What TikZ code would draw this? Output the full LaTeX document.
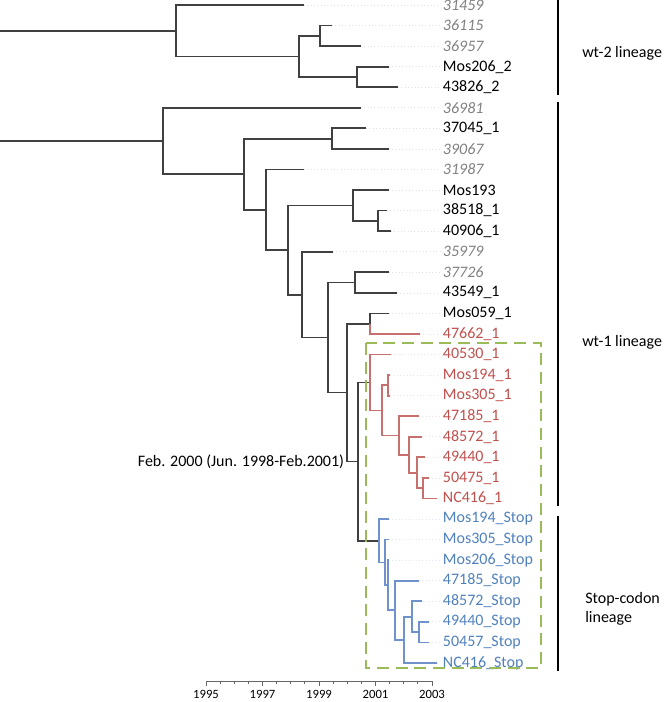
\documentclass[tikz,border=0pt]{standalone}
\usepackage{fontspec}
\setmainfont{Carlito}
\usetikzlibrary{positioning}
\definecolor{brblack}{RGB}{64,64,64}
\definecolor{brred}{RGB}{200,112,110}
\definecolor{brblue}{RGB}{112,146,204}
\definecolor{lbred}{RGB}{192,80,77}
\definecolor{lbblue}{RGB}{79,129,189}
\definecolor{lbgrey}{RGB}{128,128,128}
\definecolor{boxgreen}{RGB}{155,187,89}
\newcommand\lblsize{\fontsize{12}{14}\selectfont}
\tikzset{
  branch/.style={draw=brblack,line width=1.3pt},
  redbranch/.style={draw=brred,line width=1.3pt},
  bluebranch/.style={draw=brblue,line width=1.3pt},
  leaf/.style={anchor=west,inner sep=2pt,font=\lblsize},
  lab g/.style={leaf,text=lbgrey,font=\lblsize\itshape},
  lab k/.style={leaf,text=black},
  lab r/.style={leaf,text=lbred},
  lab b/.style={leaf,text=lbblue},
  lead g/.style={draw=black!12,dotted,line width=0.5pt},
  lead k/.style={lead g},
  lead r/.style={draw=brred!22,dotted,line width=0.5pt},
  lead b/.style={draw=brblue!22,dotted,line width=0.5pt},
  stopbox/.style={draw=boxgreen,line width=2.2pt,dash pattern=on 9pt off 5pt},
  bar/.style={draw=black,line width=1.1pt},
  axis/.style={draw=black!60,line width=0.7pt},
  yearlab/.style={font=\fontsize{9.5}{11}\selectfont,inner sep=0pt},
}
\begin{document}
\begin{tikzpicture}[x=0.75pt,y=-0.75pt]
  \useasboundingbox (0,0) rectangle (670,702);
  % leaves
  \foreach \i/\x/\s/\txt in {
      0/304/g/31459, 1/332/g/36115, 2/361/g/36957, 3/389/k/Mos206\_2, 4/398/k/43826\_2,
      5/361/g/36981, 6/366/k/37045\_1, 7/389/g/39067, 8/304/g/31987, 9/389/k/Mos193,
      10/387/k/38518\_1, 11/391/k/40906\_1, 12/333/g/35979, 13/389/g/37726, 14/397/k/43549\_1,
      15/389/k/Mos059\_1, 16/420/r/47662\_1, 17/391/r/40530\_1, 18/390/r/Mos194\_1,
      19/390/r/Mos305\_1, 20/419/r/47185\_1, 21/422/r/48572\_1, 22/425/r/49440\_1,
      23/429/r/50475\_1, 24/437/r/NC416\_1, 25/389/b/Mos194\_Stop, 26/389/b/Mos305\_Stop,
      27/389/b/Mos206\_Stop, 28/419/b/47185\_Stop, 29/422/b/48572\_Stop, 30/429/b/49440\_Stop,
      31/429/b/50457\_Stop, 32/437/b/NC416\_Stop}{
    \coordinate (l\i) at (\x,{5+20.56*\i});
    \node[lab \s] (t\i) at (440,{5+20.56*\i}) {\txt};
    \draw[lead \s] (l\i) -- (t\i.west);
  }
  % inner nodes, wt-2
  \coordinate (rootA) at (0,30.7);
  \coordinate (a4) at (176,30.7);
  \coordinate (a3) at (299,56.4);
  \coordinate (a1) at (320,35.84);
  \coordinate (a2) at (357,76.96);
  % inner nodes, wt-1
  \coordinate (rootB) at (0,141);
  \coordinate (n163) at (163,141);
  \coordinate (n244) at (244,174.2);
  \coordinate (b1) at (332,138.64);
  \coordinate (n266) at (266,209.77);
  \coordinate (n288) at (288,250.06);
  \coordinate (b3) at (353,205.46);
  \coordinate (b2) at (378,220.88);
  \coordinate (n302) at (302,294.66);
  \coordinate (n328) at (328,337.6);
  \coordinate (b4) at (355,282.56);
  \coordinate (n347) at (347,392.63);
  \coordinate (m) at (370,323.68);
  \coordinate (n358) at (358,461.58);
  \coordinate (split) at (347,461.58);
  \coordinate (r1) at (370,382.47);
  \coordinate (r2) at (382,410.42);
  \coordinate (r3) at (388,385.36);
  \coordinate (r4) at (399,435.48);
  \coordinate (r5) at (409,454.75);
  \coordinate (r6) at (417,472.74);
  \coordinate (r7) at (423,488.16);
  % inner nodes, stop codon
  \coordinate (s1) at (379,540.69);
  \coordinate (s2) at (385,562.37);
  \coordinate (s3) at (388,585.18);
  \coordinate (s4) at (395,610.24);
  \coordinate (s5) at (404,639.79);
  \coordinate (s6) at (412,616.66);
  \coordinate (s7) at (419,632.08);
  % branches
  \draw[branch] (rootA) -- (a4);
  \draw[branch] (a4) |- (l0); \draw[branch] (a4) |- (a3);
  \draw[branch] (a3) |- (a1); \draw[branch] (a3) |- (a2);
  \draw[branch] (a1) |- (l1); \draw[branch] (a1) |- (l2);
  \draw[branch] (a2) |- (l3); \draw[branch] (a2) |- (l4);
  \draw[branch] (rootB) -- (n163);
  \draw[branch] (n163) |- (l5); \draw[branch] (n163) |- (n244);
  \draw[branch] (n244) |- (b1); \draw[branch] (n244) |- (n266);
  \draw[branch] (b1) |- (l6); \draw[branch] (b1) |- (l7);
  \draw[branch] (n266) |- (l8); \draw[branch] (n266) |- (n288);
  \draw[branch] (n288) |- (b3); \draw[branch] (n288) |- (n302);
  \draw[branch] (b3) |- (l9); \draw[branch] (b3) |- (b2);
  \draw[branch] (b2) |- (l10); \draw[branch] (b2) |- (l11);
  \draw[branch] (n302) |- (l12); \draw[branch] (n302) |- (n328);
  \draw[branch] (n328) |- (b4); \draw[branch] (n328) |- (n347);
  \draw[branch] (b4) |- (l13); \draw[branch] (b4) |- (l14);
  \draw[branch] (n347) |- (m); \draw[branch] (n347) |- (n358);
  \draw[branch] (m) |- (l15);
  \draw[branch] (n358) |- (r1); \draw[branch] (n358) |- (s1);
  \draw[redbranch] (m) |- (l16);
  \draw[redbranch] (r1) |- (l17); \draw[redbranch] (r1) |- (r2);
  \draw[redbranch] (r2) |- (r3); \draw[redbranch] (r2) |- (r4);
  \draw[redbranch] (r3) |- (l18); \draw[redbranch] (r3) |- (l19);
  \draw[redbranch] (r4) |- (l20); \draw[redbranch] (r4) |- (r5);
  \draw[redbranch] (r5) |- (l21); \draw[redbranch] (r5) |- (r6);
  \draw[redbranch] (r6) |- (l22); \draw[redbranch] (r6) |- (r7);
  \draw[redbranch] (r7) |- (l23); \draw[redbranch] (r7) |- (l24);
  \draw[bluebranch] (s1) |- (l25); \draw[bluebranch] (s1) |- (s2);
  \draw[bluebranch] (s2) |- (l26); \draw[bluebranch] (s2) |- (s3);
  \draw[bluebranch] (s3) |- (l27); \draw[bluebranch] (s3) |- (s4);
  \draw[bluebranch] (s4) |- (l28); \draw[bluebranch] (s4) |- (s5);
  \draw[bluebranch] (s5) |- (s6); \draw[bluebranch] (s5) |- (l32);
  \draw[bluebranch] (s6) |- (l29); \draw[bluebranch] (s6) |- (s7);
  \draw[bluebranch] (s7) |- (l30); \draw[bluebranch] (s7) |- (l31);
  % date of the split
  \node[left=1pt of split,font=\lblsize,inner sep=1pt] (datelbl) {Feb. 2000 (Jun. 1998-Feb.2001)};
  % box round the recent clades
  \draw[stopbox] (366,343) rectangle (541,668);
  % lineage bars
  \coordinate (wt2top) at (558,0);   \coordinate (wt2bot) at (558,95);
  \coordinate (wt1top) at (558,102); \coordinate (wt1bot) at (558,506);
  \coordinate (stoptop) at (558,516); \coordinate (stopbot) at (558,671);
  \draw[bar] (wt2top) -- (wt2bot);
  \draw[bar] (wt1top) -- (wt1bot);
  \draw[bar] (stoptop) -- (stopbot);
  \node[leaf,inner sep=0pt] (wt2lbl) at (582,53) {wt-2 lineage};
  \node[leaf,inner sep=0pt] (wt1lbl) at (582,342) {wt-1 lineage};
  \node[leaf,inner sep=0pt,align=left] (stoplbl) at (585,609) {Stop-codon\\lineage};
  % time axis
  \coordinate (ax0) at (206,681);
  \coordinate (ax1) at (432,681);
  \draw[axis] (ax0) -- (ax1);
  \foreach \k in {0,...,16}
    \draw[axis] ({206+14.125*\k},681) -- ++(0,3);
  \foreach \yr [count=\k from 0] in {1995,1997,1999,2001,2003}{
    \draw[axis] ({206+56.5*\k},681) -- ++(0,5);
    \node[yearlab] (yr\yr) at ({206+56.5*\k},694) {\yr};
  }
\end{tikzpicture}
\end{document}
